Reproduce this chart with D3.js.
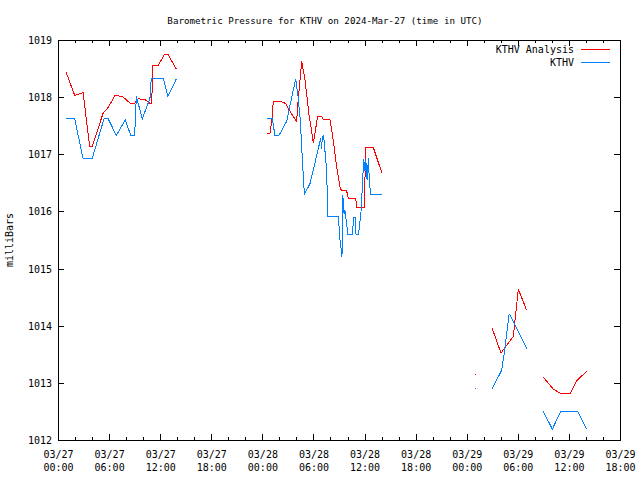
<!DOCTYPE html>
<html>
<head>
<meta charset="utf-8">
<script src="https://cdn.jsdelivr.net/npm/d3@7"></script>
<style>
  html, body { margin: 0; padding: 0; background: #fff; }
  svg { display: block; }
  text { font-family: "DejaVu Sans Mono", "Liberation Mono", monospace; font-size: 10px; fill: #000; }
</style>
</head>
<body>
<svg id="chart" width="640" height="480"></svg>
<script>
// ---- Data (hours since 2024-03-27 00:00 UTC; null = gap) ----
const seriesNames = ["KTHV Analysis", "KTHV"];

const analysisHours = [
  0.97, 1.96, 2.55, 2.95, 3.72, 4.0, 5.3, 5.9, 6.7, 7.6, 8.5, 9.0, 9.4, 10.2, 10.8, 11.0, 11.15, 11.8, 12.5, 12.9, 13.9,
  null,
  24.51, 24.9, 25.17, 25.28, 26.19, 26.74, 27.05, 28.03, 28.15, 28.62, 29.01, 29.48, 29.79, 29.98, 30.5, 30.97, 31.16, 31.94, 32.21, 32.73, 33.12, 33.32, 33.9, 34.09, 34.96, 35.08, 35.97, 36.14, 37.03, 38.02,
  null,
  49.0, 49.1,
  null,
  51.0, 52.03, 52.5, 53.47, 54.06, 55.04,
  null,
  57.0, 58.17, 58.96, 59.54, 60.13, 60.92, 62.09
];
const analysisValues = [
  1018.43, 1018.03, 1018.06, 1018.08, 1017.13, 1017.13, 1017.72, 1017.82, 1018.03, 1018.01, 1017.89, 1017.89, 1017.97, 1017.96, 1017.89, 1017.89, 1018.55, 1018.56, 1018.75, 1018.75, 1018.49,
  null,
  1017.37, 1017.37, 1017.66, 1017.92, 1017.92, 1017.89, 1017.80, 1017.57, 1017.86, 1018.63, 1018.30, 1017.69, 1017.40, 1017.19, 1017.67, 1017.67, 1017.61, 1017.61, 1017.37, 1016.78, 1016.42, 1016.36, 1016.36, 1016.23, 1016.23, 1016.07, 1016.07, 1017.12, 1017.12, 1016.68,
  null,
  1013.15, 1013.15,
  null,
  1013.95, 1013.52, 1013.62, 1013.81, 1014.64, 1014.27,
  null,
  1013.10, 1012.89, 1012.82, 1012.82, 1012.81, 1013.04, 1013.20
];

const obsHours = [
  0.97, 1.96, 2.95, 4.0, 5.4, 5.9, 6.85, 7.9, 8.55, 9.0, 9.2, 9.9, 10.8, 10.95, 12.4, 12.9, 13.9,
  null,
  24.51, 25.17, 25.48, 25.95, 26.86, 27.25, 27.92, 28.2, 28.45, 28.85, 28.95, 29.6, 30.1, 30.6, 30.85, 30.95, 31.05, 31.2, 31.5, 31.65, 31.7, 32.95, 33.05, 33.2, 33.35, 33.45, 33.6, 33.7, 33.8, 34.05, 34.6, 34.7, 34.9, 35.0, 35.3, 35.6, 35.9, 36.05, 36.15, 36.3, 36.45, 36.55, 36.7, 38.02,
  null,
  49.0, 49.1,
  null,
  51.0, 52.1, 52.41, 52.97, 53.08, 55.04,
  null,
  57.0, 58.05, 59.04, 61.03, 62.09
];
const obsValues = [
  1017.62, 1017.62, 1016.92, 1016.92, 1017.62, 1017.62, 1017.33, 1017.60, 1017.33, 1017.33, 1018.01, 1017.62, 1017.98, 1018.32, 1018.32, 1018.01, 1018.32,
  null,
  1017.62, 1017.62, 1017.33, 1017.33, 1017.58, 1017.86, 1018.32, 1018.00, 1017.60, 1016.50, 1016.30, 1016.49, 1016.80, 1017.12, 1017.28, 1017.10, 1017.30, 1017.32, 1016.80, 1016.26, 1015.91, 1015.91, 1015.60, 1015.40, 1015.20, 1016.29, 1015.95, 1016.02, 1015.90, 1015.60, 1015.60, 1015.90, 1015.90, 1015.60, 1015.60, 1016.02, 1016.91, 1016.70, 1016.91, 1016.55, 1016.93, 1016.58, 1016.30, 1016.30,
  null,
  1012.90, 1012.90,
  null,
  1012.90, 1013.22, 1013.52, 1014.19, 1014.19, 1013.60,
  null,
  1012.50, 1012.19, 1012.50, 1012.50, 1012.19
];

const xMajorTicks = [0, 6, 12, 18, 24, 30, 36, 42, 48, 54, 60, 66];
const xTickDates = ["03/27", "03/27", "03/27", "03/27", "03/28", "03/28", "03/28", "03/28", "03/29", "03/29", "03/29", "03/29"];
const xTickTimes = ["00:00", "06:00", "12:00", "18:00", "00:00", "06:00", "12:00", "18:00", "00:00", "06:00", "12:00", "18:00"];
const yTicks = [1012, 1013, 1014, 1015, 1016, 1017, 1018, 1019];

const titleText = "Barometric Pressure for KTHV on 2024-Mar-27 (time in UTC)";
const yLabelText = "milliBars";

// ---- Chart ----
const svg = d3.select("#chart");
const L = 58, R = 620, T = 40, B = 440;

const x = d3.scaleLinear().domain([0, 66]).range([L, R]);
const y = d3.scaleLinear().domain([1012, 1019]).range([B, T]);

const xMinor = d3.range(0, 67, 2).filter(h => h % 6 !== 0);

// ticks (inward, mirrored)
const tickG = svg.append("g").attr("stroke", "#000").attr("stroke-width", 1).attr("shape-rendering", "crispEdges");
xMajorTicks.forEach(h => {
  const px = Math.round(x(h)) + 0.5;
  tickG.append("line").attr("x1", px).attr("x2", px).attr("y1", B).attr("y2", B - 6);
  tickG.append("line").attr("x1", px).attr("x2", px).attr("y1", T).attr("y2", T + 6);
});
xMinor.forEach(h => {
  const px = Math.round(x(h)) + 0.5;
  tickG.append("line").attr("x1", px).attr("x2", px).attr("y1", B).attr("y2", B - 3);
  tickG.append("line").attr("x1", px).attr("x2", px).attr("y1", T).attr("y2", T + 3);
});
yTicks.forEach(v => {
  const py = Math.round(y(v)) + 0.5;
  tickG.append("line").attr("x1", L).attr("x2", L + 6).attr("y1", py).attr("y2", py);
  tickG.append("line").attr("x1", R).attr("x2", R - 6).attr("y1", py).attr("y2", py);
});

// axes labels via d3 axes (no domain, no tick lines)
const xAxis = d3.axisBottom(x).tickValues(xMajorTicks).tickSize(0).tickPadding(0).tickFormat(() => "");
const gx = svg.append("g").attr("transform", `translate(0,${B})`).call(xAxis);
gx.select(".domain").remove();
gx.selectAll(".tick text").remove();
gx.selectAll(".tick").each(function(d, i) {
  const t = d3.select(this).append("text").attr("text-anchor", "middle").attr("fill", "#000")
    .style("font-family", '"DejaVu Sans Mono", monospace').style("font-size", "10px");
  t.append("tspan").attr("x", 0).attr("y", 17.5).text(xTickDates[i]);
  t.append("tspan").attr("x", 0).attr("y", 30.5).text(xTickTimes[i]);
});

const yAxis = d3.axisLeft(y).tickValues(yTicks).tickSize(0).tickPadding(6).tickFormat(d3.format("d"));
const gy = svg.append("g").attr("transform", `translate(${L},0)`).call(yAxis);
gy.select(".domain").remove();
gy.selectAll(".tick text").attr("fill", "#000").attr("dy", "0.35em")
  .style("font-family", '"DejaVu Sans Mono", monospace').style("font-size", "10px");

// border
svg.append("rect").attr("x", L + 0.5).attr("y", T + 0.5).attr("width", R - L).attr("height", B - T)
  .attr("fill", "none").attr("stroke", "#000").attr("stroke-width", 1).attr("shape-rendering", "crispEdges");

// lines
function makeData(hs, vs) { return hs.map((h, i) => ({ h, v: vs[i] })); }
const line = d3.line().defined(d => d.h !== null && d.v !== null).x(d => x(d.h)).y(d => y(d.v));

svg.append("path").datum(makeData(analysisHours, analysisValues))
  .attr("d", line).attr("fill", "none").attr("stroke", "#ff0000").attr("stroke-width", 1)
  .attr("shape-rendering", "crispEdges");
svg.append("path").datum(makeData(obsHours, obsValues))
  .attr("d", line).attr("fill", "none").attr("stroke", "#0080ff").attr("stroke-width", 1)
  .attr("shape-rendering", "crispEdges");

// title
svg.append("text").attr("x", 325).attr("y", 23.5).attr("text-anchor", "middle")
  .style("font-size", "9.2px").text(titleText);

// y label
svg.append("text").attr("transform", "translate(13,240) rotate(-90)").attr("text-anchor", "middle")
  .text(yLabelText);

// legend
const legend = [
  { name: seriesNames[0], color: "#ff0000", y: 49 },
  { name: seriesNames[1], color: "#0080ff", y: 62 }
];
legend.forEach(d => {
  svg.append("text").attr("x", 574).attr("y", d.y + 3.5).attr("text-anchor", "end").text(d.name);
  svg.append("line").attr("x1", 581).attr("x2", 610).attr("y1", d.y + 0.5).attr("y2", d.y + 0.5)
    .attr("stroke", d.color).attr("stroke-width", 1).attr("shape-rendering", "crispEdges");
});
</script>
</body>
</html>
